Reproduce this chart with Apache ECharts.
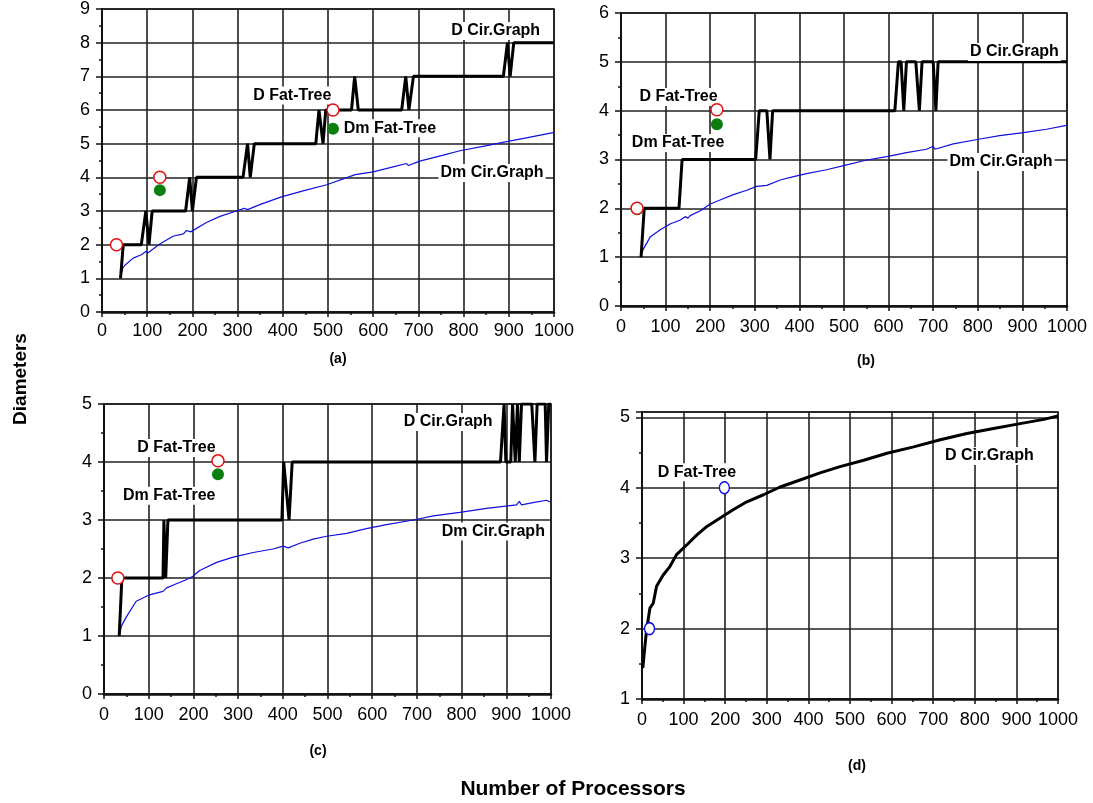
<!DOCTYPE html>
<html>
<head>
<meta charset="utf-8">
<script src="https://cdn.jsdelivr.net/npm/echarts@6/dist/echarts.min.js"></script>
<style>
  html, body { margin: 0; padding: 0; background: #fff; }
  #chart { width: 1093px; height: 803px; }
</style>
</head>
<body>
<div id="chart"></div>
<script>
// panel (a)
const aDCir = [[41,1],[47,2],[87,2],[97,3],[104,2],[111,3],[185,3],[194,4],[200,3],[209,4],[312,4],[322,5],[328,4],[337,5],[473,5],[480,6],[489,5],[495,6],[552,6],[559,7],[567,6],[663,6],[672,7],[679,6],[689,7],[888,7],[897,8],[903,7],[911,8],[1000,8]]
const aDmCir = [[40,1.03],[46,1.3],[50,1.38],[69,1.6],[87,1.7],[97,1.8],[102,1.76],[128,2.02],[157,2.25],[180,2.32],[187,2.42],[196,2.38],[231,2.66],[261,2.84],[297,3],[315,3.08],[322,3.04],[349,3.19],[397,3.42],[445,3.6],[497,3.78],[548,4.02],[560,4.08],[600,4.16],[644,4.31],[674,4.41],[678,4.35],[703,4.48],[755,4.66],[792,4.79],[851,4.94],[895,5.06],[939,5.17],[998,5.33]]
const aDFat = [[32,2],[128,4],[511,6]]
const aDmFat = [[128,3.62],[511,5.44]]
const aLabels = [[871,8.35,'D Cir.Graph'],[421,6.43,'D Fat-Tree'],[637,5.46,'Dm Fat-Tree'],[863,4.13,'Dm Cir.Graph']]

// panel (b)
const bDCir = [[45,1],[52,2],[130,2],[137,3],[302,3],[310,4],[327,4],[334,3],[340,4],[614,4],[622,5],[628,5],[634,4],[640,5],[661,5],[669,4],[675,5],[700,5],[706,4],[711,5],[1000,5]]
const bDmCir = [[43,1.01],[51,1.18],[66,1.42],[88,1.56],[110,1.68],[133,1.76],[144,1.83],[150,1.8],[155,1.85],[178,1.95],[200,2.09],[222,2.17],[252,2.28],[282,2.37],[304,2.45],[327,2.47],[357,2.58],[387,2.65],[416,2.71],[420,2.67],[461,2.79],[506,2.89],[551,2.99],[596,3.06],[640,3.14],[685,3.21],[700,3.27],[704,3.21],[745,3.32],[805,3.42],[849,3.49],[902,3.55],[954,3.62],[999,3.7]]
const bDFat = [[36,2],[215,4.02]]
const bDmFat = [[36,1.98],[215,3.72]]
const bLabels = [[882,5.2,'D Cir.Graph'],[129,4.28,'D Fat-Tree'],[128,3.34,'Dm Fat-Tree'],[852,2.95,'Dm Cir.Graph']]

// panel (c)
const cDCir = [[34,1],[40,2],[132,2],[134,3],[138,2],[143,3],[398,3],[402,4],[414,3],[421,4],[887,4],[895,5],[899,4],[910,4],[914,5],[920,4],[925,5],[929,4],[934,5],[957,5],[964,4],[969,5],[987,5],[990,4],[995,5],[1000,5]]
const cDmCir = [[34,0.99],[39,1.17],[50,1.33],[72,1.6],[102,1.71],[132,1.77],[140,1.83],[162,1.9],[184,1.97],[199,2.03],[214,2.13],[252,2.27],[289,2.36],[334,2.44],[378,2.5],[401,2.55],[412,2.52],[438,2.6],[468,2.67],[498,2.72],[543,2.77],[587,2.85],[632,2.92],[692,3],[737,3.07],[796,3.13],[856,3.2],[923,3.26],[929,3.32],[934,3.26],[960,3.3],[990,3.34],[998,3.31]]
const cDFat = [[31,2],[255,4.02]]
const cDmFat = [[255,3.79]]
const cLabels = [[770,4.69,'D Cir.Graph'],[162,4.24,'D Fat-Tree'],[146,3.42,'Dm Fat-Tree'],[871,2.8,'Dm Cir.Graph']]

// panel (d)
const dDCir = [[2,1.44],[5,1.44],[7,1.75],[11,1.98],[19,2.29],[27,2.36],[35,2.6],[51,2.76],[67,2.88],[83,3.05],[108,3.19],[132,3.33],[156,3.45],[188,3.57],[220,3.69],[252,3.8],[292,3.9],[332,4.01],[380,4.11],[428,4.21],[476,4.3],[533,4.39],[589,4.49],[653,4.58],[717,4.68],[781,4.77],[845,4.84],[909,4.91],[966,4.97],[1000,5.02]]
const dDFat = [[18,2],[198,4]]
const dLabels = [[132,4.22,'D Fat-Tree'],[835,4.45,'D Cir.Graph']]

const font = 'Liberation Sans, Arial, sans-serif'

const chart = echarts.init(document.getElementById('chart'))

const grids = [
  { left: 102, top: 7, width: 452, height: 305 },
  { left: 621, top: 13, width: 446, height: 293 },
  { left: 104, top: 404, width: 447, height: 290 },
  { left: 642, top: 412, width: 416, height: 287 }
].map(g => Object.assign({ show: true, borderColor: '#000', borderWidth: 1.5, backgroundColor: 'transparent' }, g))

function xAxis(i, margin) {
  return {
    type: 'value', gridIndex: i, min: 0, max: 1000, interval: 100,
    axisLine: { show: true, lineStyle: { color: '#111', width: 2.5 } },
    axisTick: { show: true, length: 5, lineStyle: { color: '#111', width: 1.5 } },
    minorTick: { show: true, splitNumber: 2, length: 3, lineStyle: { color: '#111', width: 1.5 } },
    splitLine: { show: true, lineStyle: { color: '#222', width: 1.6 } },
    axisLabel: { fontSize: 18, color: '#000', fontFamily: font, margin: margin, formatter: v => String(v) }
  }
}

function yAxis(i, min, max) {
  return {
    type: 'value', gridIndex: i, min: min, max: max, interval: 1,
    axisLine: { show: true, lineStyle: { color: '#111', width: 2 } },
    axisTick: { show: true, length: 6, lineStyle: { color: '#111', width: 1.5 } },
    minorTick: { show: true, splitNumber: 2, length: 3, lineStyle: { color: '#111', width: 1.5 } },
    splitLine: { show: true, lineStyle: { color: '#222', width: 1.6 } },
    axisLabel: {
      fontSize: 18, color: '#000', fontFamily: font, margin: 12,
      formatter: v => (Number.isInteger(v) ? String(v) : '')
    }
  }
}

function blackLine(i, data) {
  return { type: 'line', xAxisIndex: i, yAxisIndex: i, data: data, showSymbol: false, symbol: 'none',
    lineStyle: { color: '#000', width: 3 }, z: 4 }
}
function blueLine(i, data) {
  return { type: 'line', xAxisIndex: i, yAxisIndex: i, data: data, showSymbol: false, symbol: 'none',
    lineStyle: { color: '#1010e0', width: 1.2 }, z: 3 }
}
function openCircles(i, data, color, size) {
  return { type: 'scatter', xAxisIndex: i, yAxisIndex: i, data: data, symbol: 'circle', symbolSize: size,
    itemStyle: { color: '#fff', borderColor: color, borderWidth: 1.5, opacity: 1 }, z: 9 }
}
function greenDots(i, data) {
  return { type: 'scatter', xAxisIndex: i, yAxisIndex: i, data: data, symbol: 'circle', symbolSize: 12,
    itemStyle: { color: '#0a7f10', opacity: 1 }, z: 8 }
}
function labels(i, data) {
  return { type: 'scatter', xAxisIndex: i, yAxisIndex: i, symbolSize: 0, silent: true, z: 6,
    itemStyle: { opacity: 1 },
    data: data.map(d => ({ value: [d[0], d[1]], name: d[2] })),
    label: { show: true, position: 'inside', formatter: p => p.name, color: '#000', fontWeight: 'bold',
      fontSize: 16, fontFamily: font, backgroundColor: '#fff', padding: [1, 2] } }
}

function caption(text, x, y, size) {
  return { type: 'text', x: x, y: y,
    style: { text: text, fontSize: size, fontWeight: 'bold', fontFamily: font, fill: '#000', textAlign: 'center', textVerticalAlign: 'middle' } }
}

const option = {
  animation: false,
  backgroundColor: '#fff',
  grid: grids,
  xAxis: [xAxis(0, 10), xAxis(1, 12), xAxis(2, 12), xAxis(3, 12)],
  yAxis: [yAxis(0, 0, 9), yAxis(1, 0, 6), yAxis(2, 0, 5), yAxis(3, 1, 5.075)],
  series: [
    blueLine(0, aDmCir), blackLine(0, aDCir), labels(0, aLabels), greenDots(0, aDmFat), openCircles(0, aDFat, '#e01010', 12),
    blueLine(1, bDmCir), blackLine(1, bDCir), labels(1, bLabels), greenDots(1, bDmFat), openCircles(1, bDFat, '#e01010', 12),
    blueLine(2, cDmCir), blackLine(2, cDCir), labels(2, cLabels), greenDots(2, cDmFat), openCircles(2, cDFat, '#e01010', 12),
    blackLine(3, dDCir), labels(3, dLabels), openCircles(3, dDFat, '#1010e0', [10, 12])
  ],
  graphic: [
    caption('(a)', 338, 359, 14),
    caption('(b)', 866, 361, 14),
    caption('(c)', 318, 751, 14),
    caption('(d)', 857, 766, 14),
    caption('Number of Processors', 573, 789, 21),
    Object.assign(caption('Diameters', 0, 0, 19), { x: 21, y: 379, rotation: Math.PI / 2 })
  ]
}

chart.setOption(option)
</script>
</body>
</html>
